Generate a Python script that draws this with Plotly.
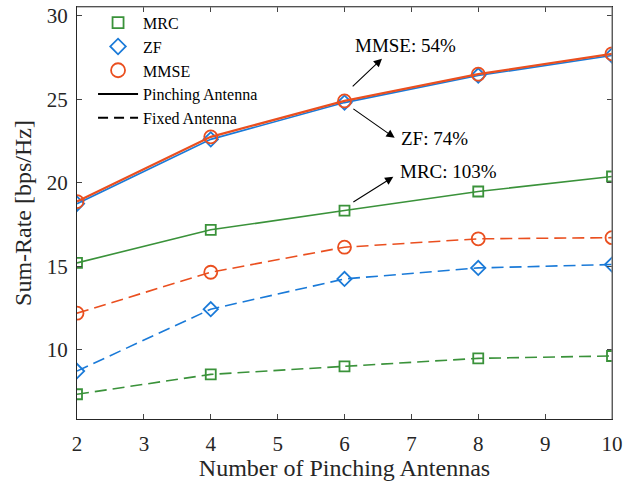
import plotly.graph_objects as go

N = [2, 4, 6, 8, 10]
mrc_pinch = [15.21, 17.19, 18.34, 19.48, 20.38]
zf_pinch = [18.75, 22.6, 24.8, 26.42, 27.62]
mmse_pinch = [18.88, 22.75, 24.9, 26.5, 27.72]
mrc_fixed = [7.35, 8.54, 9.02, 9.5, 9.64]
zf_fixed = [8.74, 12.44, 14.25, 14.91, 15.11]
mmse_fixed = [12.2, 14.65, 16.15, 16.65, 16.72]

x_ticks = [2, 3, 4, 5, 6, 7, 8, 9, 10]
y_ticks = [10, 15, 20, 25, 30]

GREEN = "#3a923a"
BLUE = "#1a7ad8"
RED = "#ea4f1f"
FONT = "Liberation Serif"
DASH = "12px,6px"

fig = go.Figure()

def add(y, color, symbol, size, dash, width):
    fig.add_trace(go.Scatter(
        x=N, y=y, mode="lines+markers", showlegend=False,
        line=dict(color=color, width=width, dash=dash),
        marker=dict(symbol=symbol, size=size, color=color,
                    line=dict(color=color, width=1.8)),
    ))

add(mrc_fixed, GREEN, "square-open", 10, DASH, 1.6)
add(zf_fixed, BLUE, "diamond-open", 11, DASH, 1.6)
add(mmse_fixed, RED, "circle-open", 13, DASH, 1.6)
add(mrc_pinch, GREEN, "square-open", 10, "solid", 1.6)
add(zf_pinch, BLUE, "diamond-open", 11, "solid", 1.6)
add(mmse_pinch, RED, "circle-open", 13, "solid", 2.2)

# legend entries
for name, color, sym, size in [("MRC", GREEN, "square-open", 11),
                               ("ZF", BLUE, "diamond-open", 12),
                               ("MMSE", RED, "circle-open", 14)]:
    fig.add_trace(go.Scatter(x=[None], y=[None], mode="markers", name=name,
                             marker=dict(symbol=sym, size=size, color=color,
                                         line=dict(color=color, width=1.8))))
fig.add_trace(go.Scatter(x=[None], y=[None], mode="lines", name="Pinching Antenna",
                         line=dict(color="black", width=2)))
fig.add_trace(go.Scatter(x=[None], y=[None], mode="lines", name="Fixed Antenna",
                         line=dict(color="black", width=2, dash="10px,6px")))

annots = [
    dict(text="MMSE: 54%", ax=6.10, ay=25.69, x=6.56, y=27.43, tx=6.13, ty=28.2),
    dict(text="ZF: 74%", ax=6.11, ay=24.49, x=6.75, y=22.69, tx=6.81, ty=22.63),
    dict(text="MRC: 103%", ax=6.11, ay=18.80, x=6.73, y=20.36, tx=6.80, ty=20.66),
]
for a in annots:
    fig.add_annotation(x=a["x"], y=a["y"], ax=a["ax"], ay=a["ay"],
                       xref="x", yref="y", axref="x", ayref="y",
                       text="", showarrow=True, arrowhead=2, arrowsize=1.5,
                       arrowwidth=1.1, arrowcolor="black")
    fig.add_annotation(x=a["tx"], y=a["ty"], xref="x", yref="y", text=a["text"],
                       showarrow=False, xanchor="left", yanchor="middle",
                       font=dict(family=FONT, size=19, color="black"))

fig.add_shape(type="line", xref="paper", yref="paper", x0=1, x1=1, y0=0, y1=1,
              line=dict(color="#808080", width=1.2))
fig.add_shape(type="line", xref="paper", yref="paper", x0=0, x1=1, y0=1, y1=1,
              line=dict(color="#808080", width=1.2))

fig.update_layout(
    width=634, height=481,
    margin=dict(l=77, r=22, t=7, b=62, autoexpand=False),
    paper_bgcolor="white", plot_bgcolor="white",
    font=dict(family=FONT, color="#262626"),
    legend=dict(x=0.03, y=1.003, xanchor="left", yanchor="top",
                bgcolor="rgba(0,0,0,0)", font=dict(family=FONT, size=16, color="black"),
                tracegroupgap=0, itemwidth=40),
    xaxis=dict(range=[2, 10], tickvals=x_ticks, ticks="inside", ticklen=5,
               showgrid=False, zeroline=False, showline=True, linecolor="#262626",
               linewidth=1.2, mirror="ticks", tickfont=dict(size=21, family=FONT),
               automargin=False, ticklabelstandoff=6,
               title=dict(text="Number of Pinching Antennas", standoff=4,
                          font=dict(size=24, family=FONT))),
    yaxis=dict(range=[5.87, 30.52], tickvals=y_ticks, ticks="inside", ticklen=5,
               showgrid=False, zeroline=False, showline=True, linecolor="#262626",
               linewidth=1.2, mirror="ticks", tickfont=dict(size=21, family=FONT),
               automargin=False, ticklabelstandoff=4,
               title=dict(text="Sum-Rate [bps/Hz]", standoff=8,
                          font=dict(size=24, family=FONT))),
)

fig.write_html("out.html", config={"displayModeBar": False},
               post_script="document.body.style.margin='0';document.body.style.overflow='hidden';")
